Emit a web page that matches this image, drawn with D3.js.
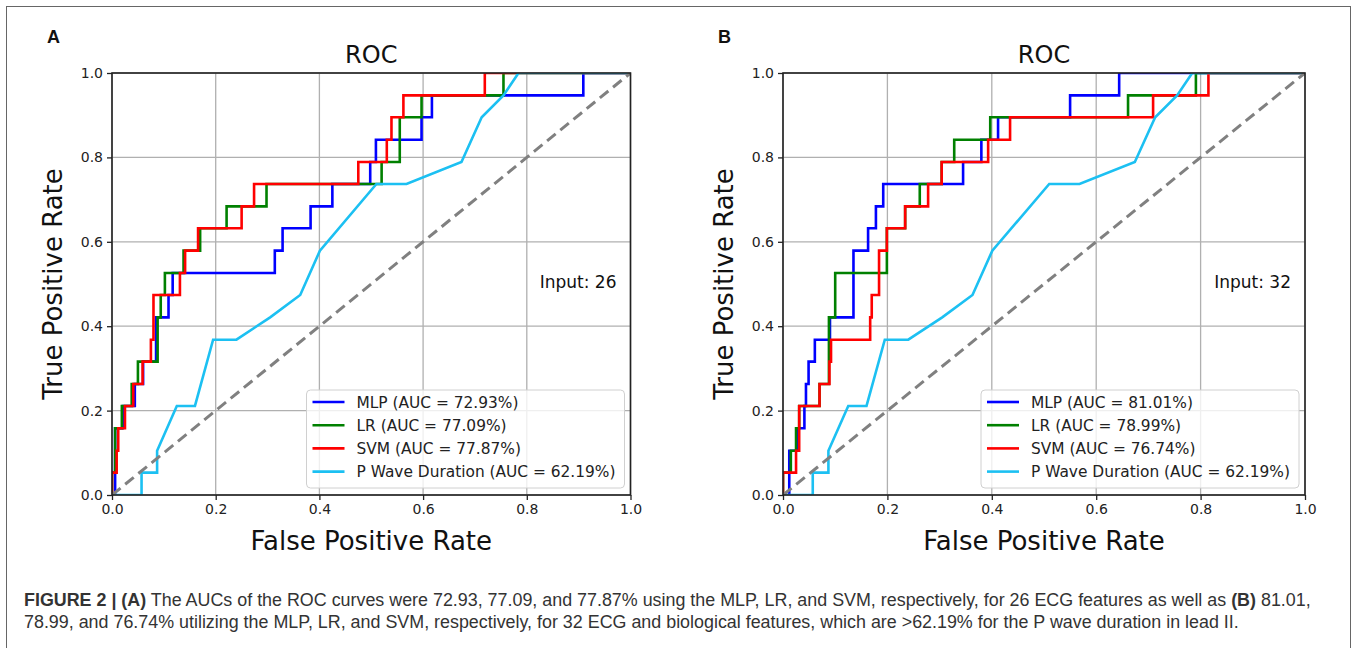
<!DOCTYPE html>
<html>
<head>
<meta charset="utf-8">
<script src="https://cdn.jsdelivr.net/npm/d3@7"></script>
<style>
  body { margin: 0; background: #fff; }
  text { font-family: "DejaVu Sans", sans-serif; }
  text.cap { font-family: "Liberation Sans", Arial, sans-serif; }
</style>
</head>
<body>
<svg id="fig" width="1357" height="648"></svg>
<script>
// ---- data: [fpr, tpr] corner points ----
var ticks = [0, 0.2, 0.4, 0.6, 0.8, 1.0];
var chance = [[0, 0], [1, 1]];

var mlpA = [[0,0],[0.006,0],[0.006,0.158],[0.021,0.158],[0.021,0.211],[0.044,0.211],[0.044,0.263],[0.060,0.263],[0.060,0.316],[0.085,0.316],[0.085,0.421],[0.109,0.421],[0.109,0.474],[0.117,0.474],[0.117,0.526],[0.314,0.526],[0.314,0.579],[0.329,0.579],[0.329,0.632],[0.383,0.632],[0.383,0.684],[0.425,0.684],[0.425,0.737],[0.498,0.737],[0.498,0.789],[0.509,0.789],[0.509,0.842],[0.597,0.842],[0.597,0.895],[0.617,0.895],[0.617,0.947],[0.909,0.947],[0.909,1],[1,1]];
var lrA = [[0,0],[0,0.053],[0.006,0.053],[0.006,0.158],[0.019,0.158],[0.019,0.211],[0.038,0.211],[0.038,0.263],[0.050,0.263],[0.050,0.316],[0.088,0.316],[0.088,0.421],[0.094,0.421],[0.094,0.474],[0.102,0.474],[0.102,0.526],[0.138,0.526],[0.138,0.579],[0.170,0.579],[0.170,0.632],[0.221,0.632],[0.221,0.684],[0.298,0.684],[0.298,0.737],[0.520,0.737],[0.520,0.789],[0.555,0.789],[0.555,0.895],[0.597,0.895],[0.597,0.947],[0.755,0.947],[0.755,1],[1,1]];
var svmA = [[0,0],[0,0.053],[0.009,0.053],[0.009,0.105],[0.012,0.105],[0.012,0.158],[0.025,0.158],[0.025,0.211],[0.041,0.211],[0.041,0.263],[0.059,0.263],[0.059,0.316],[0.075,0.316],[0.075,0.368],[0.080,0.368],[0.080,0.474],[0.131,0.474],[0.131,0.526],[0.141,0.526],[0.141,0.579],[0.166,0.579],[0.166,0.632],[0.250,0.632],[0.250,0.684],[0.274,0.684],[0.274,0.737],[0.475,0.737],[0.475,0.789],[0.530,0.789],[0.530,0.842],[0.539,0.842],[0.539,0.895],[0.562,0.895],[0.562,0.947],[0.719,0.947],[0.719,1],[1,1]];

var mlpB = [[0,0],[0.012,0],[0.012,0.105],[0.029,0.105],[0.029,0.158],[0.041,0.158],[0.041,0.211],[0.044,0.211],[0.044,0.263],[0.049,0.263],[0.049,0.316],[0.061,0.316],[0.061,0.368],[0.090,0.368],[0.090,0.421],[0.135,0.421],[0.135,0.579],[0.163,0.579],[0.163,0.632],[0.178,0.632],[0.178,0.684],[0.192,0.684],[0.192,0.737],[0.345,0.737],[0.345,0.789],[0.380,0.789],[0.380,0.842],[0.412,0.842],[0.412,0.895],[0.550,0.895],[0.550,0.947],[0.644,0.947],[0.644,1],[1,1]];
var lrB = [[0,0],[0,0.053],[0.015,0.053],[0.015,0.105],[0.025,0.105],[0.025,0.158],[0.031,0.158],[0.031,0.211],[0.070,0.211],[0.070,0.263],[0.088,0.263],[0.088,0.421],[0.100,0.421],[0.100,0.526],[0.199,0.526],[0.199,0.632],[0.234,0.632],[0.234,0.684],[0.262,0.684],[0.262,0.737],[0.304,0.737],[0.304,0.789],[0.328,0.789],[0.328,0.842],[0.397,0.842],[0.397,0.895],[0.661,0.895],[0.661,0.947],[0.791,0.947],[0.791,1],[1,1]];
var svmB = [[0,0],[0,0.053],[0.025,0.053],[0.025,0.105],[0.031,0.105],[0.031,0.211],[0.070,0.211],[0.070,0.263],[0.089,0.263],[0.089,0.316],[0.092,0.316],[0.092,0.368],[0.167,0.368],[0.167,0.421],[0.170,0.421],[0.170,0.474],[0.184,0.474],[0.184,0.579],[0.199,0.579],[0.199,0.632],[0.234,0.632],[0.234,0.684],[0.278,0.684],[0.278,0.737],[0.304,0.737],[0.304,0.789],[0.393,0.789],[0.393,0.842],[0.435,0.842],[0.435,0.895],[0.709,0.895],[0.709,0.947],[0.815,0.947],[0.815,1],[1,1]];

// P wave duration curve is the same in both panels
var pwave = [[0,0],[0.057,0],[0.057,0.053],[0.087,0.053],[0.087,0.105],[0.125,0.211],[0.160,0.211],[0.195,0.368],[0.240,0.368],[0.305,0.421],[0.363,0.474],[0.401,0.579],[0.510,0.737],[0.568,0.737],[0.674,0.789],[0.713,0.895],[0.755,0.947],[0.784,1],[1,1]];

var namesA = ["MLP (AUC = 72.93%)", "LR (AUC = 77.09%)", "SVM (AUC = 77.87%)", "P Wave Duration (AUC = 62.19%)"];
var namesB = ["MLP (AUC = 81.01%)", "LR (AUC = 78.99%)", "SVM (AUC = 76.74%)", "P Wave Duration (AUC = 62.19%)"];
var colors = ["#0000ff", "#008000", "#ff0000", "#1cc0f2"];

var svg = d3.select("#fig");

// outer frame of the figure
svg.append("rect")
    .attr("x", 6.5).attr("y", 6.5)
    .attr("width", 1344).attr("height", 700)
    .attr("fill", "none")
    .attr("stroke", "#666")
    .attr("stroke-width", 1);

function drawPanel(opts) {
    let x = d3.scaleLinear().domain([0, 1]).range([opts.x0, opts.x1]);
    let y = d3.scaleLinear().domain([0, 1]).range([495, 73]);
    let g = svg.append("g");

    // panel letter + title
    g.append("text")
        .attr("x", opts.x0 - 65).attr("y", 43)
        .attr("class", "cap")
        .style("font-weight", "bold")
        .style("font-size", "18px")
        .attr("fill", "#111")
        .text(opts.letter);
    g.append("text")
        .attr("x", (opts.x0 + opts.x1) / 2).attr("y", 63)
        .attr("text-anchor", "middle")
        .style("font-size", "24px")
        .attr("fill", "#111")
        .text("ROC");

    // grid
    g.selectAll("line.gx").data(ticks).enter().append("line")
        .attr("class", "gx")
        .attr("x1", d => x(d)).attr("x2", d => x(d))
        .attr("y1", y(0)).attr("y2", y(1))
        .attr("stroke", "#b0b0b0").attr("stroke-width", 1.3);
    g.selectAll("line.gy").data(ticks).enter().append("line")
        .attr("class", "gy")
        .attr("y1", d => y(d)).attr("y2", d => y(d))
        .attr("x1", x(0)).attr("x2", x(1))
        .attr("stroke", "#b0b0b0").attr("stroke-width", 1.3);

    let clipId = "clip" + opts.letter;
    g.append("clipPath").attr("id", clipId)
      .append("rect")
        .attr("x", x(0)).attr("y", y(1))
        .attr("width", x(1) - x(0)).attr("height", y(0) - y(1));

    let line = d3.line().x(d => x(d[0])).y(d => y(d[1]));
    let plot = g.append("g").attr("clip-path", "url(#" + clipId + ")");

    opts.series.forEach(function(s, i) {
        plot.append("path")
            .datum(s)
            .attr("d", line)
            .attr("fill", "none")
            .attr("stroke", colors[i])
            .attr("stroke-width", 2.6);
    });

    plot.append("path")
        .datum(chance)
        .attr("d", line)
        .attr("stroke", "#808080")
        .attr("stroke-width", 3)
        .attr("stroke-dasharray", "11,6");

    // axes
    let xAxis = g.append("g")
        .attr("transform", "translate(0," + y(0) + ")")
        .call(d3.axisBottom(x).tickValues(ticks).tickFormat(d3.format(".1f")).tickSize(5).tickPadding(4));
    let yAxis = g.append("g")
        .attr("transform", "translate(" + x(0) + ",0)")
        .call(d3.axisLeft(y).tickValues(ticks).tickFormat(d3.format(".1f")).tickSize(5).tickPadding(4));
    [xAxis, yAxis].forEach(function(a) {
        a.select(".domain").remove();
        a.selectAll(".tick line").attr("stroke", "#222").attr("stroke-width", 1.3);
        a.selectAll(".tick text")
            .style("font-family", "'DejaVu Sans', sans-serif")
            .style("font-size", "14px")
            .attr("fill", "#222");
    });

    // frame
    g.append("rect")
        .attr("x", x(0)).attr("y", y(1))
        .attr("width", x(1) - x(0)).attr("height", y(0) - y(1))
        .attr("fill", "none")
        .attr("stroke", "#222")
        .attr("stroke-width", 1.6);

    // axis labels
    g.append("text")
        .attr("x", (opts.x0 + opts.x1) / 2).attr("y", 550)
        .attr("text-anchor", "middle")
        .style("font-size", "26px")
        .attr("fill", "#111")
        .text("False Positive Rate");
    g.append("text")
        .attr("transform", "translate(" + (opts.x0 - 50) + "," + ((y(0) + y(1)) / 2) + ")rotate(-90)")
        .attr("text-anchor", "middle")
        .style("font-size", "26px")
        .attr("fill", "#111")
        .text("True Positive Rate");

    // input note
    g.append("text")
        .attr("x", x(1) - 14).attr("y", 288)
        .attr("text-anchor", "end")
        .style("font-size", "17px")
        .attr("fill", "#111")
        .text(opts.input);

    // legend
    let lw = 318, lh = 98;
    let lx = x(1) - 6 - lw, ly = 390;
    let leg = g.append("g").attr("transform", "translate(" + lx + "," + ly + ")");
    leg.append("rect")
        .attr("width", lw).attr("height", lh)
        .attr("rx", 4).attr("ry", 4)
        .attr("fill", "#fff").attr("fill-opacity", 0.8)
        .attr("stroke", "#d0d0d0").attr("stroke-width", 1);
    let rows = leg.selectAll("g.row").data(opts.names).enter().append("g")
        .attr("class", "row")
        .attr("transform", (d, i) => "translate(0," + (12 + i * 23.2) + ")");
    rows.append("line")
        .attr("x1", 6).attr("x2", 38)
        .attr("stroke", (d, i) => colors[i])
        .attr("stroke-width", 2.6);
    rows.append("text")
        .attr("x", 50).attr("y", 5.5)
        .style("font-size", "15.4px")
        .attr("fill", "#222")
        .text(d => d);
}

drawPanel({letter: "A", x0: 112, x1: 630.5, series: [mlpA, lrA, svmA, pwave], names: namesA, input: "Input: 26"});
drawPanel({letter: "B", x0: 783, x1: 1305, series: [mlpB, lrB, svmB, pwave], names: namesB, input: "Input: 32"});

// caption, sized so the first line spans the same width as in the figure
var l1 = svg.append("text").attr("class", "cap").attr("x", 24).attr("y", 606)
    .style("font-size", "16px").attr("fill", "#333");
l1.append("tspan").style("font-weight", "bold").text("FIGURE 2 | (A)");
l1.append("tspan").text(" The AUCs of the ROC curves were 72.93, 77.09, and 77.87% using the MLP, LR, and SVM, respectively, for 26 ECG features as well as ");
l1.append("tspan").style("font-weight", "bold").text("(B)");
l1.append("tspan").text(" 81.01,");
var l2 = svg.append("text").attr("class", "cap").attr("x", 24).attr("y", 628)
    .style("font-size", "16px").attr("fill", "#333")
    .text("78.99, and 76.74% utilizing the MLP, LR, and SVM, respectively, for 32 ECG and biological features, which are >62.19% for the P wave duration in lead II.");
var w1 = l1.node().getComputedTextLength();
var fs = Math.min(18.5, 16 * 1288 / w1);
l1.style("font-size", fs + "px");
l2.style("font-size", fs + "px");
</script>
</body>
</html>
